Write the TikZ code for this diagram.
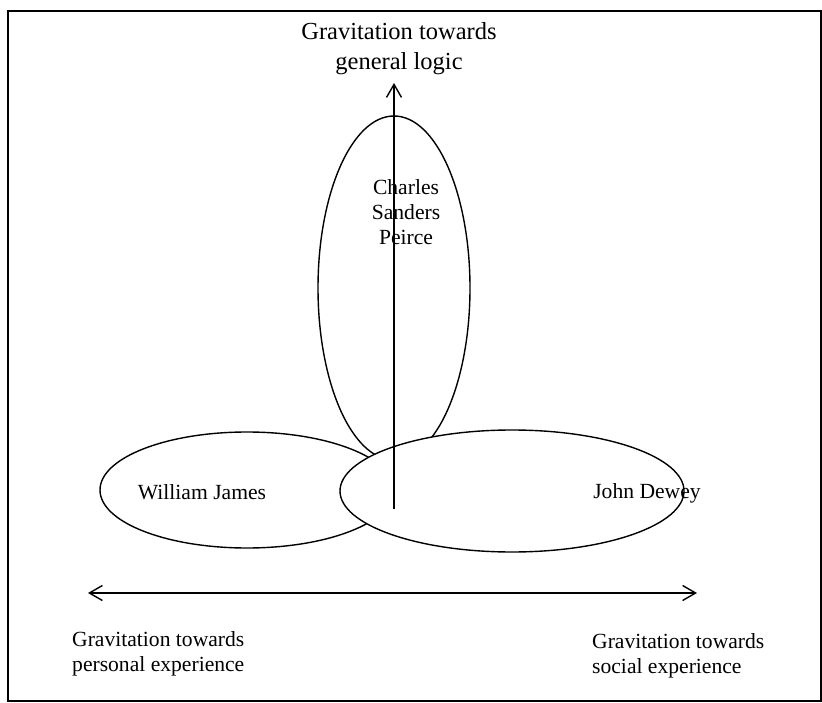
\documentclass[tikz,border=0pt]{standalone}
\usepackage{fontspec}
\setmainfont{Liberation Serif}
\usetikzlibrary{arrows.meta,shapes.geometric}
\tikzset{
  oval/.style={ellipse, draw, fill=white, line width=1.4pt, inner sep=0pt},
  axis/.style={line width=1.3pt, -{Straight Barb[length=13pt,width=15pt,line width=1.4pt]}},
  bigtxt/.style={font=\fontsize{24.5pt}{30pt}\selectfont, align=center, inner sep=0pt},
  txt/.style={font=\fontsize{21.6pt}{24.5pt}\selectfont, align=left, inner sep=0pt},
  ctxt/.style={font=\fontsize{21.6pt}{25pt}\selectfont, align=center, inner sep=0pt},
}
\begin{document}
\begin{tikzpicture}[x=1pt,y=-1pt]
\useasboundingbox (0,0) rectangle (822,703);
\draw[line width=1.4pt] (8,11) rectangle (821,701);
% ellipses
\node[oval, minimum width=294pt, minimum height=116pt] (jamesov) at (247,490) {};
\node[oval, minimum width=152pt, minimum height=344pt] (peirceov) at (394,288) {};
\node[oval, minimum width=344pt, minimum height=122pt] (deweyov) at (512,491) {};
% axes
\coordinate (vbot) at (394,509);
\coordinate (vtop) at (394,83);
\coordinate (hleft) at (88,593);
\coordinate (hright) at (697,593);
\draw[axis] (vbot) -- (vtop);
\draw[line width=1.3pt, {Straight Barb[length=13pt,width=15pt,line width=1.4pt]}-{Straight Barb[length=13pt,width=15pt,line width=1.4pt]}] (hleft) -- (hright);
% texts
\node[bigtxt] (logic) at (399,49) {Gravitation towards\\general logic};
\node[ctxt] (peirce) at (406,212) {Charles\\Sanders\\Peirce};
\node[ctxt] (james) at (202,492) {William James};
\node[ctxt] (dewey) at (647,493) {John Dewey};
\node[txt, anchor=west] (personal) at (72,654) {Gravitation towards\\personal experience};
\node[txt, anchor=west] (social) at (592,656) {Gravitation towards\\social experience};
\end{tikzpicture}
\end{document}
